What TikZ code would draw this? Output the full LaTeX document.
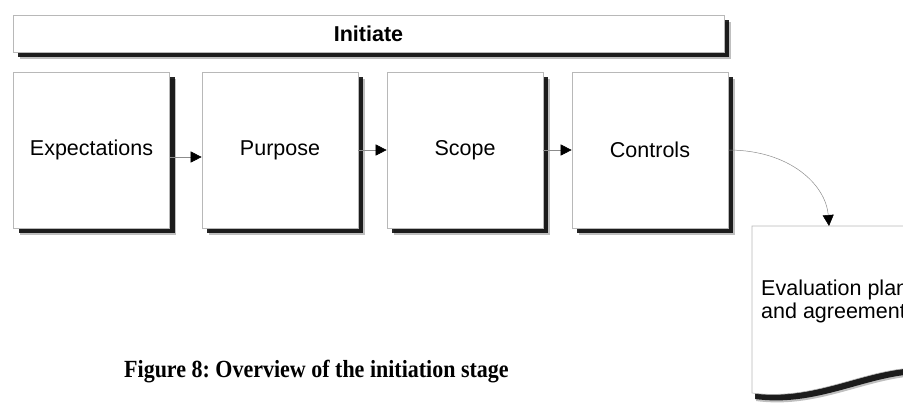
\documentclass[tikz,border=0pt]{standalone}
\usepackage{fontspec}
\setmainfont{Liberation Serif}
\setsansfont{Liberation Sans}
\usetikzlibrary{arrows.meta,shadows}
\begin{document}
\frenchspacing
\begin{tikzpicture}[x=1pt,y=-1pt,
  boxshadow/.style={
    drop shadow={shadow xshift=6.5pt,shadow yshift=-6.5pt,fill=black,opacity=0.25},
    drop shadow={shadow xshift=5pt,shadow yshift=-5pt,fill=black,opacity=0.85}},
  stepbox/.style={draw=black!28,line width=0.6pt,fill=white,
    minimum width=156pt,minimum height=156pt,inner sep=0pt,
    font=\sffamily\fontsize{21.5}{24}\selectfont,boxshadow},
  barbox/.style={draw=black!28,line width=0.6pt,fill=white,
    minimum width=711pt,minimum height=37pt,inner sep=0pt,
    font=\sffamily\bfseries\fontsize{21.5}{24}\selectfont,boxshadow},
  flow/.style={draw=black!45,line width=0.5pt,
    -{Triangle[length=11pt,width=11pt,color=black]}},
  doctext/.style={font=\sffamily\fontsize{21.5}{23}\selectfont,align=left,inner sep=0pt},
  captext/.style={font=\bfseries\fontsize{22}{24}\selectfont,inner sep=0pt}
]
\useasboundingbox (0,0) rectangle (903,405);
\clip (0,0) rectangle (903,405);

% stage bar
\node[barbox] (initiate) at (368.5,33.5) {Initiate};

% the four steps
\node[stepbox] (expect) at (91.5,150) {Expectations};
\node[stepbox] (purpose) at (280,150) {Purpose};
\node[stepbox] (scope) at (465,150) {Scope};
\node[stepbox] (controls) at (650,150) {Controls};

% output document with a wavy lower edge
\def\docpath{(752,226) -- (960,226) -- (960,366) -- (930,368)
  .. controls (870,364) and (820,402) .. (752,393) -- cycle}
\fill[black,opacity=0.25,xshift=4pt,yshift=-8pt] \docpath;
\fill[black,opacity=0.85,xshift=3pt,yshift=-6pt] \docpath;
\filldraw[draw=black!28,line width=0.6pt,fill=white] \docpath;
\coordinate (doctop) at (829,226);
\node[doctext,anchor=base west] (evaluation) at (761,318)
  {Evaluation plan\\and agreement};

% connectors
\draw[flow] ([yshift=-7pt]expect.east) -- ([yshift=-7pt]purpose.west);
\draw[flow] (purpose.east) -- (scope.west);
\draw[flow] (scope.east) -- (controls.west);
\draw[flow] (controls.east) .. controls (790,150) and (826,185) .. (doctop);

% caption
\node[captext,anchor=base west] (caption) at (124,377)
  {\scalebox{1}[1.12]{Figure 8: Overview of the initiation stage}};
\end{tikzpicture}
\end{document}
